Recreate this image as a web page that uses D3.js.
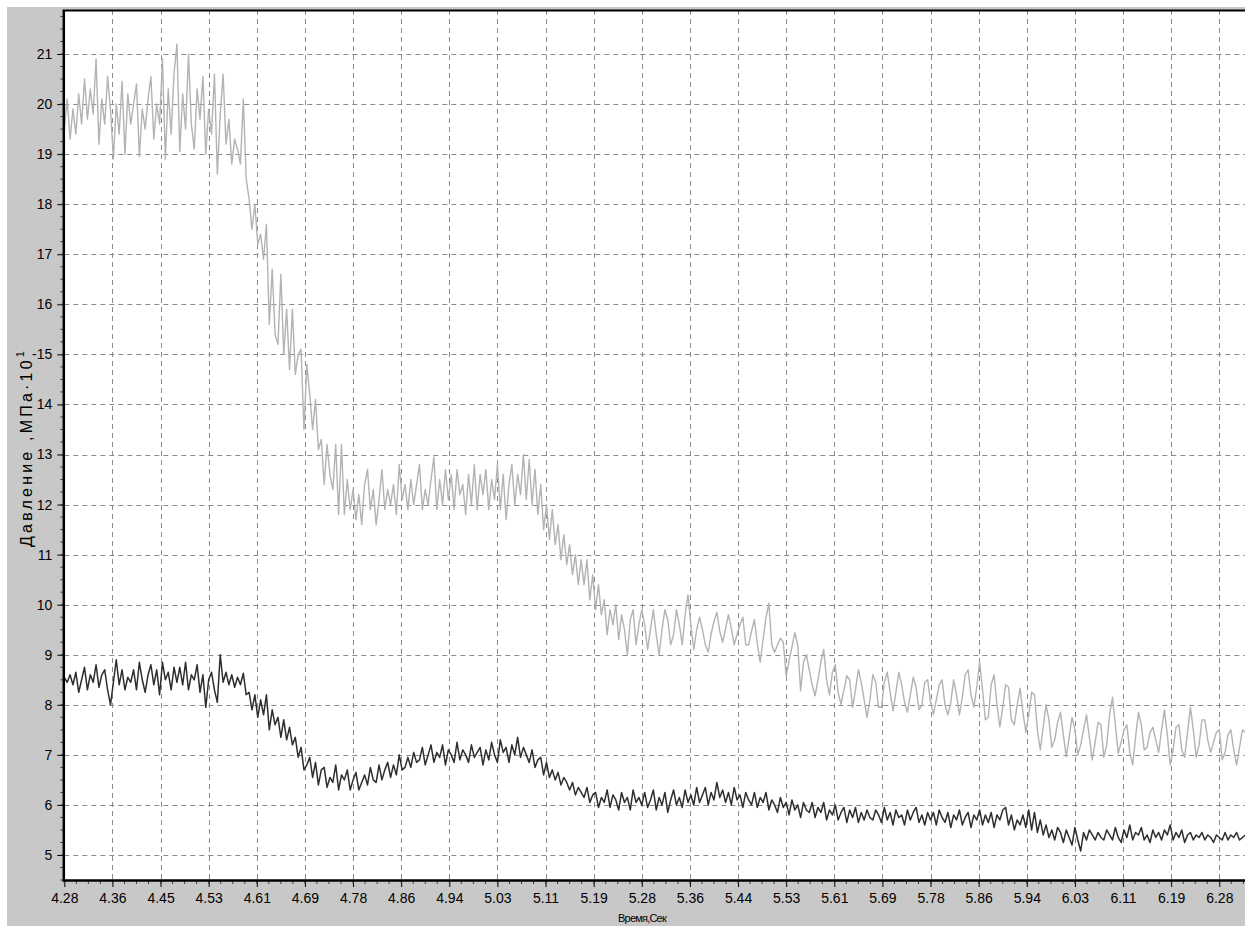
<!DOCTYPE html>
<html>
<head>
<meta charset="utf-8">
<script src="https://cdn.jsdelivr.net/npm/d3@7"></script>
<style>
  body { margin: 0; background: #fff; }
  text { font-family: "Liberation Sans", Arial, sans-serif; fill: #000; }
</style>
</head>
<body>
<div id="wrapper"></div>
<script>
// sampled record: first sample time and sample interval, seconds
const startTime = 4.28
const sampleStep = 0.005

const xTickLabels = ["4.28","4.36","4.45","4.53","4.61","4.69","4.78","4.86","4.94","5.03","5.11","5.19",
  "5.28","5.36","5.44","5.53","5.61","5.69","5.78","5.86","5.94","6.03","6.11","6.19","6.28"]
const xTickStep = 1 / 12
const yTickValues = [5,6,7,8,9,10,11,12,13,14,15,16,17,18,19,20,21]
const yTickLabels = ["5","6","7","8","9","10","11","12","13","14","-15","16","17","18","19","20","21"]

// upper trace (light gray), one row = 0.1 s
const upperPressure = [
  19.5,20.1,19.3,19.9,19.4,20.2,19.6,20.5,19.7,20.3,19.8,20.9,19.2,20.1,19.6,20.55,19.9,18.9,20.0,19.4,
  20.45,19.0,20.2,19.6,20.0,20.4,18.95,19.9,19.5,20.1,20.55,19.3,20.0,19.6,20.9,18.9,20.3,19.4,20.6,21.2,
  19.05,20.2,19.5,21.0,19.6,19.1,20.3,19.7,20.55,19.0,19.9,19.4,20.6,18.6,19.8,20.6,19.2,19.7,18.8,19.3,
  19.1,18.8,20.1,18.5,18.1,17.5,18.0,17.2,17.4,16.9,17.6,15.6,16.7,15.4,15.2,16.6,15.0,15.9,14.7,15.9,
  14.6,15.0,15.1,13.5,14.8,14.2,13.5,14.1,13.1,13.3,12.4,13.2,12.6,12.3,13.2,11.8,13.2,11.8,12.5,11.9,
  12.3,11.7,12.2,11.6,12.4,12.7,11.9,12.3,11.6,12.1,12.7,11.9,12.3,12.0,12.4,11.8,12.8,12.1,12.4,11.9,
  12.5,12.0,12.4,12.8,11.9,12.3,12.0,12.5,12.95,11.9,12.5,12.0,12.7,12.1,12.6,11.9,12.7,12.2,12.4,11.8,
  12.6,12.0,12.8,11.9,12.6,12.2,12.7,11.9,12.5,12.1,12.8,11.9,12.6,11.7,12.4,12.8,12.0,12.6,12.2,13.0,
  12.1,12.9,12.0,12.7,11.8,12.4,11.5,12.0,11.3,11.9,11.2,11.6,10.9,11.4,10.8,11.2,10.6,11.0,10.4,10.9,
  10.4,10.9,10.1,10.6,9.9,10.4,9.8,10.1,9.4,9.9,9.6,10.0,9.3,9.8,9.5,9.0,9.7,9.9,9.2,9.6,
  9.9,9.6,9.1,9.5,9.9,9.4,9.0,9.5,9.9,9.7,9.2,9.4,9.9,9.6,9.2,9.8,10.2,9.6,9.1,9.5,
  9.75,9.5,9.2,9.05,9.41,9.67,9.85,9.47,9.25,9.52,9.8,9.53,9.2,9.41,9.6,9.75,9.2,9.2,9.47,9.7,
  9.23,8.85,9.3,9.74,10.03,9.2,9.05,9.2,9.33,9.25,8.58,8.88,9.16,9.44,9.2,8.28,8.85,9.0,8.7,8.4,
  8.18,8.5,8.85,9.11,8.5,8.2,8.65,8.8,8.25,8.01,8.3,8.58,8.5,7.95,8.3,8.7,8.45,8.1,7.75,8.1,
  8.6,8.45,7.95,7.95,8.45,8.65,8.25,7.88,8.25,8.65,8.4,8.05,7.85,8.2,8.55,8.35,7.9,8.0,8.45,8.5,
  8.05,7.81,8.1,8.4,8.5,8.0,7.8,8.05,8.5,8.2,7.8,8.15,8.6,8.7,8.2,7.95,8.35,8.85,8.3,7.7,
  7.75,8.4,8.6,8.0,7.56,7.95,8.4,8.35,7.7,7.6,8.0,8.33,7.85,7.45,7.8,8.25,8.2,7.5,7.1,7.55,
  8.0,7.7,7.15,7.3,7.65,7.85,7.4,6.96,7.35,7.75,7.5,7.0,7.2,7.5,7.8,7.35,6.9,7.25,7.65,7.6,
  6.95,7.2,7.8,8.15,7.6,7.03,7.25,7.5,7.6,7.05,6.8,7.35,7.85,7.6,7.1,7.15,7.45,7.55,7.3,7.05,
  7.5,7.9,7.4,6.8,7.1,7.55,7.6,7.1,6.95,7.45,7.95,7.5,6.95,7.2,7.7,7.7,7.3,7.05,7.25,7.45,
  7.5,6.9,7.05,7.4,7.5,7.1,6.8,7.15,7.5,7.45
]

// lower trace (dark), one row = 0.1 s
const lowerPressure = [
  8.55,8.45,8.6,8.4,8.65,8.25,8.5,8.75,8.3,8.6,8.45,8.8,8.35,8.6,8.7,8.3,8.0,8.45,8.9,8.4,
  8.7,8.3,8.55,8.45,8.7,8.3,8.85,8.5,8.25,8.6,8.8,8.4,8.7,8.2,8.85,8.5,8.65,8.3,8.75,8.45,
  8.75,8.4,8.85,8.3,8.6,8.5,8.8,8.25,8.6,7.95,8.5,8.65,8.3,8.05,9.0,8.45,8.65,8.4,8.6,8.35,
  8.55,8.4,8.63,8.2,8.25,7.9,8.2,7.75,8.1,7.8,8.2,7.5,7.9,7.6,7.75,7.35,7.7,7.3,7.55,7.2,
  7.35,6.95,7.15,6.7,6.8,6.95,6.55,6.85,6.4,6.7,6.75,6.35,6.55,6.45,6.8,6.3,6.6,6.5,6.7,6.3,
  6.5,6.65,6.3,6.45,6.6,6.4,6.75,6.5,6.45,6.8,6.5,6.7,6.85,6.55,6.8,6.6,7.0,6.7,6.75,6.95,
  6.75,7.05,6.85,6.9,7.15,6.8,7.0,7.2,6.85,7.05,6.95,7.2,6.8,7.1,7.0,6.85,7.25,6.9,7.1,7.0,
  6.85,7.2,6.95,7.05,7.15,6.8,7.1,6.9,7.25,7.0,6.85,7.3,7.05,7.15,6.85,7.2,7.0,7.35,6.95,7.15,
  7.0,6.85,7.1,6.75,6.9,6.95,6.6,6.85,6.55,6.7,6.5,6.65,6.4,6.55,6.45,6.3,6.45,6.2,6.35,6.25,
  6.15,6.35,6.05,6.2,6.25,5.95,6.15,6.05,6.3,5.95,6.2,6.1,5.9,6.25,6.05,6.15,5.9,6.3,6.05,6.15,
  6.0,6.25,5.95,6.1,6.3,5.9,6.15,6.0,6.25,5.85,6.1,6.3,6.0,6.15,5.95,6.3,6.05,6.2,6.0,6.35,
  6.05,6.2,6.35,6.0,6.25,6.1,6.45,6.15,6.3,6.05,6.25,6.0,6.35,6.1,6.2,5.95,6.25,6.1,6.0,6.25,
  5.95,6.15,6.05,6.25,5.9,6.1,6.0,5.85,6.15,5.95,6.05,5.8,6.1,5.9,6.0,5.75,6.05,5.9,5.85,6.05,
  5.75,5.95,5.85,6.05,5.7,5.9,5.8,6.0,5.7,5.85,5.95,5.65,5.9,5.75,5.95,5.65,5.85,5.7,5.9,5.75,
  5.7,5.9,5.8,5.65,5.95,5.7,5.85,5.6,5.9,5.75,5.8,5.6,5.9,5.7,5.85,5.95,5.65,5.8,5.6,5.85,
  5.7,5.85,5.6,5.9,5.75,5.65,5.85,5.55,5.8,5.7,5.9,5.6,5.75,5.85,5.55,5.8,5.7,5.9,5.6,5.8,
  5.65,5.85,5.55,5.8,5.7,5.9,5.95,5.6,5.8,5.5,5.7,5.6,5.8,5.55,5.9,5.5,5.85,5.45,5.7,5.4,
  5.6,5.35,5.5,5.3,5.55,5.45,5.25,5.5,5.35,5.2,5.55,5.3,5.08,5.45,5.3,5.5,5.4,5.3,5.45,5.35,
  5.3,5.5,5.4,5.3,5.55,5.35,5.25,5.5,5.35,5.6,5.3,5.45,5.4,5.55,5.3,5.4,5.25,5.5,5.35,5.45,
  5.3,5.5,5.4,5.6,5.3,5.45,5.35,5.5,5.25,5.4,5.45,5.3,5.4,5.35,5.45,5.3,5.4,5.35,5.25,5.4,
  5.35,5.3,5.45,5.3,5.4,5.35,5.45,5.3,5.35,5.4
]

const width = 1245, height = 926
const plot = {left: 64.3, top: 10, right: 1245, bottom: 880}

const svg = d3.select("#wrapper").append("svg")
  .attr("width", width).attr("height", height)
  .style("display", "block")

// grey window background and white plotting field
svg.append("rect").attr("x", 7).attr("y", 7).attr("width", width - 7).attr("height", height - 7)
  .attr("fill", "#c8c8c8")
svg.append("rect").attr("x", plot.left).attr("y", plot.top)
  .attr("width", plot.right - plot.left).attr("height", plot.bottom - plot.top)
  .attr("fill", "#fff")

const xScale = d3.scaleLinear()
  .domain([4.28, 6.28])
  .range([64.3, 1219.3])
const yScale = d3.scaleLinear()
  .domain([5, 21])
  .range([855, 54])

const xTickValues = xTickLabels.map((d, i) => startTime + i * xTickStep)
const xMinorValues = d3.range(0, 100).map(i => startTime + i * xTickStep / 4).filter(t => xScale(t) <= plot.right)
const yMinorValues = d3.range(4.5, 21.9, 0.25)

// dashed grid
const grid = svg.append("g").attr("stroke", "#8a8a8a").attr("stroke-width", 1)
  .attr("stroke-dasharray", "5,4")
grid.selectAll("line.h").data(yTickValues).join("line").attr("class", "h")
  .attr("x1", plot.left).attr("x2", plot.right)
  .attr("y1", d => Math.round(yScale(d)) + 0.5).attr("y2", d => Math.round(yScale(d)) + 0.5)
grid.selectAll("line.v").data(xTickValues.slice(1)).join("line").attr("class", "v")
  .attr("y1", plot.top).attr("y2", plot.bottom)
  .attr("x1", d => Math.round(xScale(d)) + 0.5).attr("x2", d => Math.round(xScale(d)) + 0.5)

// traces
svg.append("clipPath").attr("id", "clip").append("rect")
  .attr("x", plot.left).attr("y", plot.top)
  .attr("width", plot.right - plot.left).attr("height", plot.bottom - plot.top)

const line = d3.line()
  .x((d, i) => xScale(startTime + i * sampleStep))
  .y(d => yScale(d))

const traces = svg.append("g").attr("clip-path", "url(#clip)")
traces.append("path").datum(upperPressure)
  .attr("fill", "none").attr("stroke", "#b3b3b3").attr("stroke-width", 1.4)
  .attr("stroke-linejoin", "round")
  .attr("d", line)
traces.append("path").datum(lowerPressure)
  .attr("fill", "none").attr("stroke", "#2e2e2e").attr("stroke-width", 1.5)
  .attr("stroke-linejoin", "round")
  .attr("d", line)

// axes
const yAxis = svg.append("g").attr("transform", `translate(${plot.left - 1},0)`)
  .call(d3.axisLeft(yScale).tickValues(yTickValues)
    .tickFormat((d, i) => yTickLabels[i]).tickSize(6).tickPadding(5))
yAxis.select(".domain").remove()
yAxis.selectAll("text").style("font-size", "14px").attr("fill", "#000")
yAxis.append("g").selectAll("line").data(yMinorValues).join("line")
  .attr("x1", -3).attr("x2", 0)
  .attr("y1", d => yScale(d)).attr("y2", d => yScale(d))
  .attr("stroke", "#444")

const xAxis = svg.append("g").attr("transform", `translate(0,${plot.bottom + 1})`)
  .call(d3.axisBottom(xScale).tickValues(xTickValues)
    .tickFormat((d, i) => xTickLabels[i]).tickSize(6).tickPadding(6))
xAxis.select(".domain").remove()
xAxis.selectAll("text").style("font-size", "14px").attr("fill", "#000")
xAxis.append("g").selectAll("line").data(xMinorValues).join("line")
  .attr("y1", 0).attr("y2", 3)
  .attr("x1", d => xScale(d)).attr("x2", d => xScale(d))
  .attr("stroke", "#444")

// frame lines
svg.append("line").attr("x1", plot.left - 0.5).attr("x2", plot.left - 0.5)
  .attr("y1", plot.top).attr("y2", plot.bottom + 1.5)
  .attr("stroke", "#000").attr("stroke-width", 2.5)
svg.append("line").attr("x1", plot.left - 1.5).attr("x2", plot.right)
  .attr("y1", plot.bottom + 0.5).attr("y2", plot.bottom + 0.5)
  .attr("stroke", "#000").attr("stroke-width", 2.5)
svg.append("line").attr("x1", plot.left - 1.5).attr("x2", plot.right)
  .attr("y1", plot.top + 0.5).attr("y2", plot.top + 0.5)
  .attr("stroke", "#000").attr("stroke-width", 2)

// titles
svg.append("text").attr("x", 642).attr("y", 922)
  .attr("text-anchor", "middle").style("font-size", "11px").style("letter-spacing", "-0.8px")
  .text("Время,Сек")

const yTitle = svg.append("text")
  .attr("transform", "translate(32,449) rotate(-90)")
  .attr("text-anchor", "middle").style("font-size", "16px")
yTitle.append("tspan").style("letter-spacing", "3.2px").text("Давление ,МПа·10")
yTitle.append("tspan").attr("dy", -8).style("font-size", "11px").text("1")
</script>
</body>
</html>
